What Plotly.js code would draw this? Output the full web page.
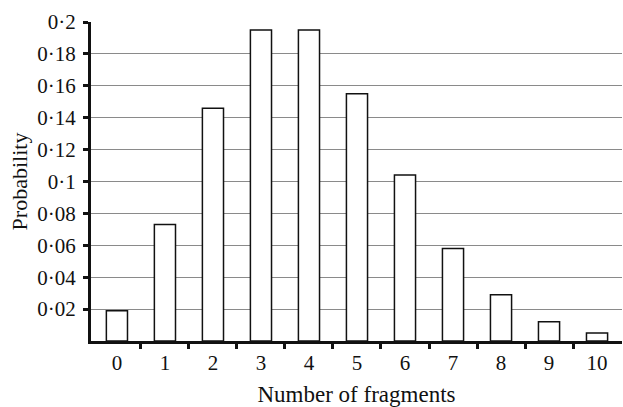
<!DOCTYPE html>
<html>
<head>
<meta charset="utf-8">
<script src="https://cdn.plot.ly/plotly-3.0.1.min.js"></script>
<style>html,body{margin:0;padding:0;background:#fff;}#chart{width:623px;height:407px;}</style>
</head>
<body>
<div id="chart"></div>
<script>
const fragments = [0, 1, 2, 3, 4, 5, 6, 7, 8, 9, 10];
const probability = [0.019, 0.073, 0.146, 0.195, 0.195, 0.155, 0.104, 0.058, 0.029, 0.012, 0.005];
const yTickVals = [0.02, 0.04, 0.06, 0.08, 0.1, 0.12, 0.14, 0.16, 0.18, 0.2];
const yTickText = ["0·02", "0·04", "0·06", "0·08", "0·1", "0·12", "0·14", "0·16", "0·18", "0·2"];
const boundaryTicks = [0.5, 1.5, 2.5, 3.5, 4.5, 5.5, 6.5, 7.5, 8.5, 9.5];

const serif = "Liberation Serif, Times New Roman, serif";

const trace = {
  type: 'bar',
  x: fragments,
  y: probability,
  width: 0.44,
  marker: {color: '#ffffff', line: {color: '#111111', width: 1.5}},
  hoverinfo: 'skip'
};

const layout = {
  width: 623, height: 407,
  margin: {l: 91, r: 1, t: 22, b: 66},
  paper_bgcolor: '#ffffff', plot_bgcolor: '#ffffff',
  showlegend: false,
  font: {family: serif, color: '#111111', size: 21},
  xaxis: {
    range: [-0.54, 10.52],
    tickmode: 'array', tickvals: fragments, ticktext: fragments.map(String),
    ticks: '', showgrid: false, zeroline: false,
    showline: true, linecolor: '#111111', linewidth: 3,
    ticklabelstandoff: 1,
    tickfont: {family: serif, size: 21, color: '#111111'},
    minor: {tickmode: 'array', tickvals: boundaryTicks, ticks: 'outside', ticklen: 5, tickwidth: 3, tickcolor: '#111111', showgrid: false},
    title: {text: 'Number of fragments', font: {family: serif, size: 23, color: '#111111'}, standoff: 14}
  },
  yaxis: {
    range: [0, 0.2],
    tickmode: 'array', tickvals: yTickVals, ticktext: yTickText,
    ticks: 'outside', ticklen: 5, tickwidth: 3, tickcolor: '#111111',
    showgrid: true, gridcolor: '#8a8a8a', gridwidth: 1,
    zeroline: false,
    showline: true, linecolor: '#111111', linewidth: 3,
    ticklabelstandoff: 3,
    tickfont: {family: serif, size: 21, color: '#111111'},
    title: {text: 'Probability', font: {family: serif, size: 22, color: '#111111'}, standoff: 4}
  }
};

Plotly.newPlot('chart', [trace], layout, {displayModeBar: false, staticPlot: true});
</script>
</body>
</html>
